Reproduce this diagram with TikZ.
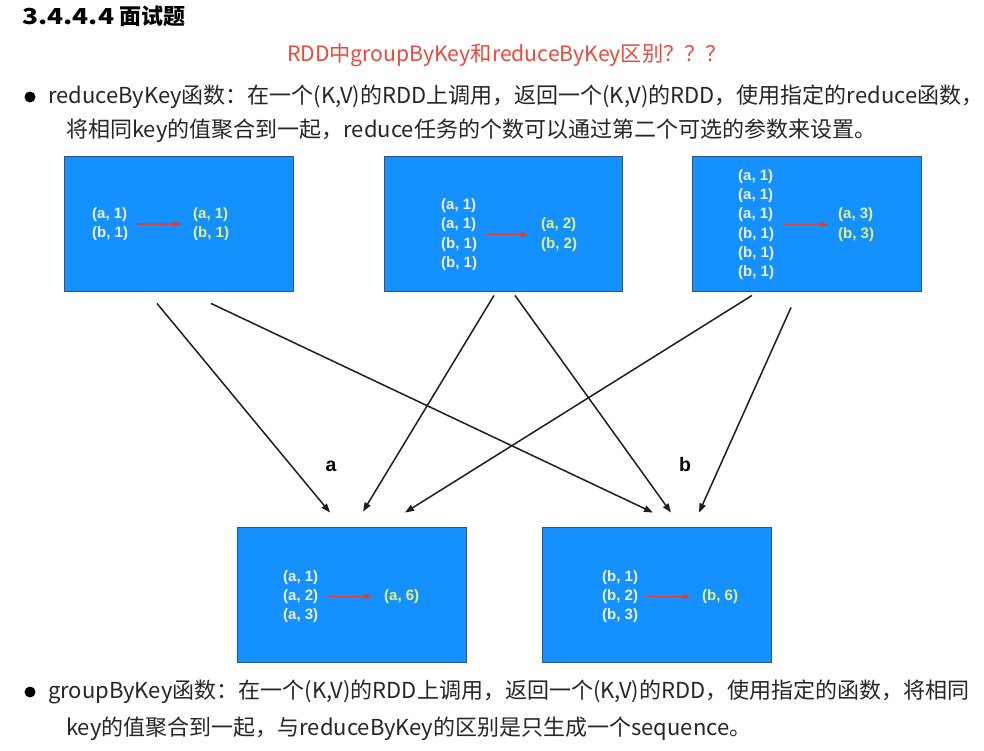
\documentclass[tikz,border=0pt]{standalone}
\usepackage{fontspec}
\setmainfont{Noto Sans CJK SC}
\newfontfamily\pairfont{Liberation Sans}
\usetikzlibrary{arrows.meta}
\definecolor{boxblue}{RGB}{20,144,255}
\definecolor{boxedge}{RGB}{45,85,135}
\definecolor{pairwhite}{RGB}{236,241,248}
\definecolor{pairyellow}{RGB}{228,240,130}
\definecolor{redarrow}{RGB}{222,62,50}
\definecolor{titlered}{RGB}{234,74,62}
\definecolor{bodygray}{RGB}{38,38,38}
\definecolor{connblack}{RGB}{30,30,30}
\tikzset{
  rdd/.style={draw=boxedge, line width=0.9pt, fill=boxblue, minimum width=229pt, minimum height=135pt, inner sep=0pt},
  pairs/.style={font=\pairfont\bfseries\fontsize{15}{19.3}\selectfont, align=left, inner sep=0pt, anchor=west},
  inpairs/.style={pairs, text=pairwhite},
  outpairs/.style={pairs, text=pairyellow},
  redarr/.style={draw=redarrow, line width=1.3pt, -{Triangle[length=7pt,width=5.5pt]}},
  conn/.style={draw=connblack, line width=1.5pt, -{Triangle[length=9pt,width=6.5pt]}},
  bodytext/.style={font=\fontsize{22}{33}\selectfont, text=bodygray, inner sep=0pt, anchor=west},
  bullet/.style={circle, fill=black, inner sep=0pt, minimum size=11pt},
  letter/.style={font=\pairfont\bfseries\fontsize{19.5}{19.5}\selectfont, inner sep=0pt}
}
\begin{document}
\begin{tikzpicture}[x=1pt,y=-1pt]
\useasboundingbox[fill=white] (0,0) rectangle (984,751);

% headings
\node[font=\bfseries\fontsize{22}{22}\selectfont, text=black, inner sep=0pt, anchor=west] (title) at (22,16) {\scalebox{1.2}[1]{3.4.4.4} 面试题};
\node[font=\fontsize{21.2}{21.2}\selectfont, text=titlered, inner sep=0pt] (subtitle) at (507,55) {RDD中groupByKey和reduceByKey区别？？？};

% first bullet
\node[bullet] (dot1) at (30,97) {};
\node[bodytext] (l1a) at (48,97) {reduceByKey函数：在一个(K,V)的RDD上调用，返回一个(K,V)的RDD，使用指定的reduce函数，};
\node[bodytext] (l1b) at (66,131) {将相同key的值聚合到一起，reduce任务的个数可以通过第二个可选的参数来设置。};

% boxes
\node[rdd] (b1) at (178.5,223.5) {};
\node[rdd, minimum width=238pt] (b2) at (503,223.5) {};
\node[rdd] (b3) at (806.5,223.5) {};
\node[rdd] (b4) at (351.5,594.5) {};
\node[rdd] (b5) at (656.5,594.5) {};

% box 1
\node[inpairs] (i1) at (92,224) {(a, 1)\\(b, 1)};
\node[outpairs] (o1) at (193,224) {(a, 1)\\(b, 1)};
\draw[redarr] ([xshift=9pt]i1.east) -- ([xshift=-12pt]o1.west);
% box 2
\node[inpairs] (i2) at (441,234.5) {(a, 1)\\(a, 1)\\(b, 1)\\(b, 1)};
\node[outpairs] (o2) at (541,234.5) {(a, 2)\\(b, 2)};
\draw[redarr] ([xshift=8pt]i2.east) -- ([xshift=-13pt]o2.west);
% box 3
\node[inpairs] (i3) at (738,224.5) {(a, 1)\\(a, 1)\\(a, 1)\\(b, 1)\\(b, 1)\\(b, 1)};
\node[outpairs] (o3) at (838,224.5) {(a, 3)\\(b, 3)};
\draw[redarr] ([xshift=9pt]i3.east) -- ([xshift=-10pt]o3.west);
% box 4
\node[inpairs] (i4) at (283,596.5) {(a, 1)\\(a, 2)\\(a, 3)};
\node[outpairs] (o4) at (384,596.5) {(a, 6)};
\draw[redarr] ([xshift=9pt]i4.east) -- ([xshift=-12pt]o4.west);
% box 5
\node[inpairs] (i5) at (602,596.5) {(b, 1)\\(b, 2)\\(b, 3)};
\node[outpairs] (o5) at (702,596.5) {(b, 6)};
\draw[redarr] ([xshift=8pt]i5.east) -- ([xshift=-12pt]o5.west);

% connectors
\draw[conn] ([shift={(-21.5,12)}]b1.south) -- ([shift={(-21.5,-14)}]b4.north);
\draw[conn] ([shift={(32.5,12)}]b1.south) -- ([shift={(-3.5,-14)}]b5.north);
\draw[conn] ([shift={(-9,4)}]b2.south) -- ([shift={(11.5,-15)}]b4.north);
\draw[conn] ([shift={(12,4)}]b2.south) -- ([shift={(14.5,-14)}]b5.north);
\draw[conn] ([shift={(-54.5,4)}]b3.south) -- ([shift={(53.5,-14)}]b4.north);
\draw[conn] ([shift={(-15.5,16)}]b3.south) -- ([shift={(42.5,-14)}]b5.north);

\node[letter] (la) at (331,466) {a};
\node[letter] (lb) at (685,465) {b};

% second bullet
\node[bullet] (dot2) at (30,692) {};
\node[bodytext] (l2a) at (48,692) {groupByKey函数：在一个(K,V)的RDD上调用，返回一个(K,V)的RDD，使用指定的函数，将相同};
\node[bodytext] (l2b) at (66,729) {key的值聚合到一起，与reduceByKey的区别是只生成一个sequence。};
\end{tikzpicture}
\end{document}
